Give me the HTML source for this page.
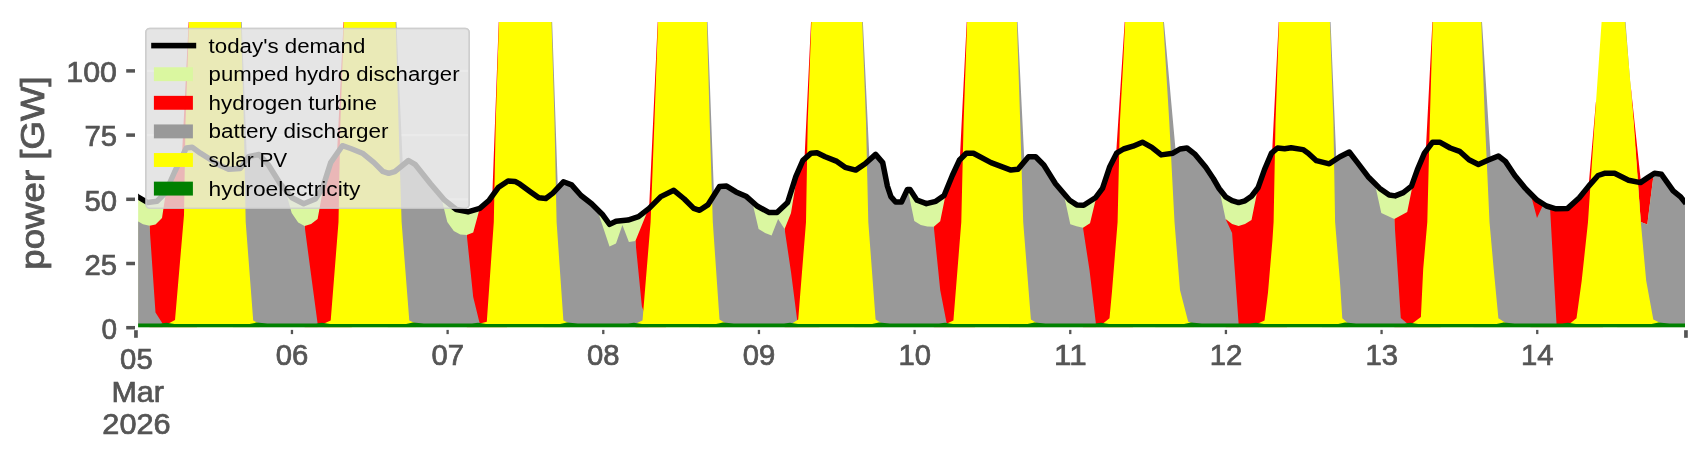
<!DOCTYPE html>
<html><head><meta charset="utf-8"><title>power chart</title>
<style>
html,body{margin:0;padding:0;background:#ffffff;}
body{width:1706px;height:460px;overflow:hidden;position:relative;font-family:"Liberation Sans",sans-serif;}
svg text{font-family:"Liberation Sans",sans-serif;}
svg{transform:translateZ(0);}
</style></head><body>
<svg width="1706" height="460" viewBox="0 0 1706 460" style="position:absolute;left:0;top:0">
<defs><clipPath id="cp"><rect x="138.15" y="22.0" width="1546.85" height="305.30"/></clipPath><clipPath id="cl"><rect x="138.15" y="22.0" width="1546.85" height="308.00"/></clipPath></defs>
<rect x="145.9" y="28.5" width="323.2" height="179.8" rx="4" ry="4" fill="#e5e5e5" stroke="#cccccc" stroke-width="1.6"/>
<rect x="146.9" y="69.8" width="321.2" height="2.2" fill="#ffffff"/>
<rect x="146.9" y="134.0" width="321.2" height="2.2" fill="#ffffff"/>
<rect x="146.9" y="198.2" width="321.2" height="2.2" fill="#ffffff"/>
<g clip-path="url(#cp)">
<polygon fill="#daf7a0" points="136.0,195.6 138.2,197.0 147.6,202.5 157.0,201.3 165.2,193.0 174.6,172.0 186.3,148.0 192.2,147.3 200.4,153.2 219.2,165.0 228.6,169.2 240.3,168.5 248.5,156.7 259.0,154.4 268.5,165.0 280.2,183.7 292.0,197.8 303.7,203.7 315.4,199.0 322.5,188.4 330.7,162.6 342.4,145.7 350.7,148.5 362.4,153.2 374.0,162.6 382.6,171.3 388.7,173.3 394.8,171.6 408.5,160.5 415.0,164.3 430.5,183.7 444.6,200.2 456.3,209.5 468.0,211.9 479.8,208.4 489.2,200.2 498.6,187.2 508.0,181.0 515.0,181.4 520.0,184.2 530.6,192.0 538.8,197.8 545.8,198.5 552.9,193.1 563.4,181.8 571.6,184.9 581.0,195.5 591.6,203.7 602.2,214.2 609.6,224.4 616.0,221.2 628.0,220.1 638.5,216.6 649.1,208.4 660.8,196.6 673.8,190.3 684.3,199.0 693.7,208.4 699.6,210.3 707.8,204.9 719.5,186.5 726.6,186.1 736.0,191.9 746.5,196.6 757.1,206.0 768.8,212.4 777.0,212.6 787.6,202.5 795.8,176.7 802.9,160.3 811.1,153.2 817.0,152.7 825.2,156.7 836.9,161.4 845.1,167.3 855.7,170.1 865.1,163.8 875.6,154.4 882.7,162.6 887.4,186.1 890.9,196.6 895.6,202.0 901.5,202.0 907.3,189.6 910.0,189.6 917.0,200.2 926.4,203.7 935.8,201.3 944.1,195.5 952.3,175.5 959.3,160.3 966.3,153.2 973.4,153.2 991.0,162.6 1010.9,170.1 1018.0,169.2 1028.5,156.7 1035.6,156.7 1043.8,165.0 1055.5,183.7 1069.6,200.2 1076.7,204.9 1083.7,205.3 1095.4,197.8 1102.5,188.4 1109.5,167.3 1116.6,153.2 1123.6,149.0 1133.0,146.2 1142.4,142.2 1151.8,147.3 1161.2,154.9 1172.9,153.2 1180.0,149.0 1187.0,148.0 1195.2,154.4 1205.8,167.3 1213.3,178.5 1219.1,188.5 1225.6,196.8 1232.1,200.6 1238.6,202.6 1245.0,200.8 1251.5,196.2 1258.0,187.8 1264.5,169.6 1271.5,153.2 1277.5,148.0 1284.6,148.7 1291.1,147.7 1303.0,149.6 1308.2,153.2 1316.4,160.7 1329.3,163.8 1339.9,156.7 1349.3,152.0 1357.5,162.6 1368.1,176.7 1379.8,188.4 1389.2,195.0 1395.1,195.9 1403.3,192.6 1411.5,186.1 1417.4,169.6 1424.4,153.2 1432.6,142.2 1439.7,142.2 1450.2,148.0 1459.6,151.3 1469.0,159.8 1478.4,164.5 1487.8,160.3 1498.4,156.0 1505.4,161.4 1514.8,175.5 1525.4,188.4 1537.1,200.2 1546.5,206.0 1555.9,208.8 1567.6,208.4 1579.3,197.8 1588.7,186.1 1598.1,175.5 1605.2,173.2 1614.6,173.2 1628.6,180.2 1640.4,182.6 1647.4,177.9 1654.5,173.2 1661.5,174.3 1673.2,190.8 1680.3,196.6 1686.0,203.5 1686.0,327.6 136.0,327.6"/>
<polygon fill="#ff0000" points="149.5,327.6 149.5,225.7 155.5,224.6 162.0,218.0 165.5,195.0 174.6,172.0 181.9,157.0 188.8,20.0 197.0,20.0 197.0,327.6"/>
<polygon fill="#ff0000" points="304.6,327.6 304.6,226.0 311.1,224.0 317.6,219.0 324.1,183.4 330.7,162.6 337.0,153.5 343.7,20.0 351.9,20.0 351.9,327.6"/>
<polygon fill="#ff0000" points="466.8,327.6 466.8,235.0 473.2,232.6 479.7,208.4 479.8,208.4 489.2,200.2 492.3,195.9 498.8,20.0 507.0,20.0 507.0,327.6"/>
<polygon fill="#ff0000" points="635.4,327.6 635.4,241.0 648.4,208.9 649.1,208.4 657.8,20.0 666.0,20.0 666.0,327.6"/>
<polygon fill="#ff0000" points="784.6,327.6 784.6,229.0 791.0,213.0 797.6,172.5 802.9,160.3 804.5,158.9 811.1,20.0 819.4,20.0 819.4,327.6"/>
<polygon fill="#ff0000" points="933.8,327.6 933.8,226.7 940.2,221.3 946.7,189.2 952.3,175.5 959.3,160.3 959.8,159.8 966.8,20.0 975.1,20.0 975.1,327.6"/>
<polygon fill="#ff0000" points="1083.0,327.6 1083.0,227.8 1090.0,223.3 1096.5,196.3 1102.5,188.4 1109.5,167.3 1116.1,154.2 1124.8,20.0 1133.1,20.0 1133.1,327.6"/>
<polygon fill="#ff0000" points="1225.6,327.6 1225.6,219.0 1232.1,224.0 1238.6,226.0 1245.0,224.0 1251.5,220.0 1258.0,187.8 1264.5,169.6 1271.5,153.2 1272.1,152.7 1278.8,20.0 1287.0,20.0 1287.0,327.6"/>
<polygon fill="#ff0000" points="1394.3,327.6 1394.3,219.0 1400.8,215.5 1407.2,212.0 1413.7,179.9 1417.4,169.6 1424.4,153.2 1425.8,151.3 1432.5,20.0 1440.7,20.0 1440.7,327.6"/>
<polygon fill="#ff0000" points="1530.5,327.6 1530.5,193.5 1537.0,200.1 1537.1,200.2 1546.5,206.0 1555.9,208.8 1567.6,208.4 1579.3,197.8 1588.6,186.2 1595.9,102.0 1603.0,110.0 1603.0,327.6"/>
<polygon fill="#ff0000" points="1630.1,80.0 1640.8,181.0 1647.4,177.9 1653.7,173.7 1647.3,224.5 1640.8,222.0"/>
<polygon fill="#999999" points="136.0,327.6 136.0,220.5 138.2,221.5 143.0,224.3 149.5,225.7 155.5,312.4 162.5,323.6 162.5,327.6"/>
<polygon fill="#999999" points="241.6,20.0 246.9,159.0 248.5,156.7 259.0,154.4 268.5,165.0 280.2,183.7 285.2,189.7 291.7,213.0 298.2,222.5 304.6,226.0 311.1,275.0 317.6,323.6 317.6,327.6 233.0,327.6 233.0,20.0"/>
<polygon fill="#999999" points="396.3,20.0 402.8,165.1 408.5,160.5 415.0,164.3 430.5,183.7 440.8,195.8 447.3,222.0 453.8,231.0 460.3,234.5 466.8,235.0 473.2,297.0 479.7,323.6 479.7,327.6 387.7,327.6 387.7,20.0"/>
<polygon fill="#999999" points="552.1,20.0 557.8,187.8 563.4,181.8 571.6,184.9 581.0,195.5 591.6,203.7 597.0,209.0 609.5,246.6 616.0,243.5 622.4,225.0 628.9,242.0 635.4,241.0 641.9,306.5 648.4,323.6 648.4,327.6 543.5,327.6 543.5,20.0"/>
<polygon fill="#999999" points="707.5,20.0 714.0,195.1 719.5,186.5 726.6,186.1 736.0,191.9 746.5,196.6 752.2,201.7 758.6,229.0 765.1,233.0 771.6,235.6 778.1,219.0 784.6,229.0 791.0,272.0 797.6,323.6 797.6,327.6 698.9,327.6 698.9,20.0"/>
<polygon fill="#999999" points="862.8,20.0 869.5,159.9 875.6,154.4 882.7,162.6 887.4,186.1 890.9,196.6 895.6,202.0 901.5,202.0 907.3,189.6 907.8,189.6 914.3,221.0 920.8,225.0 927.3,226.5 933.8,226.7 940.2,290.0 946.7,323.6 946.7,327.6 854.2,327.6 854.2,20.0"/>
<polygon fill="#999999" points="1017.5,20.0 1024.4,161.6 1028.5,156.7 1035.6,156.7 1043.8,165.0 1055.5,183.7 1063.5,193.1 1070.3,224.3 1076.5,226.3 1083.0,227.8 1089.5,270.0 1095.9,323.6 1095.9,327.6 1008.9,327.6 1008.9,20.0"/>
<polygon fill="#999999" points="1163.8,20.0 1175.7,151.5 1180.0,149.0 1187.0,148.0 1195.2,154.4 1205.8,167.3 1213.3,178.5 1219.1,188.5 1225.6,219.0 1232.1,233.0 1238.6,323.6 1238.6,327.6 1155.2,327.6 1155.2,20.0"/>
<polygon fill="#999999" points="1330.5,20.0 1336.3,159.1 1339.9,156.7 1349.3,152.0 1357.5,162.6 1368.1,176.7 1374.8,183.4 1381.3,213.0 1387.8,216.0 1394.3,219.0 1400.8,318.0 1407.2,323.6 1407.2,327.6 1321.9,327.6 1321.9,20.0"/>
<polygon fill="#999999" points="1481.9,20.0 1490.7,159.1 1498.4,156.0 1505.4,161.4 1514.8,175.5 1525.4,188.4 1530.5,193.5 1537.0,218.0 1543.5,204.1 1550.0,207.0 1556.5,323.6 1556.5,327.6 1473.3,327.6 1473.3,20.0"/>
<polygon fill="#999999" points="1625.4,20.0 1640.8,222.0 1647.3,224.5 1653.7,173.7 1654.5,173.2 1661.5,174.3 1673.2,190.8 1680.3,196.6 1686.0,203.5 1686.0,327.6 1617.1,327.6 1617.1,20.0"/>
<polygon fill="#ffff00" points="168.5,327.6 168.5,323.6 175.0,320.0 184.0,215.0 185.5,122.0 189.0,22.0 241.0,22.0 243.8,122.0 245.7,222.0 253.2,320.6 259.5,323.6 259.5,327.6"/>
<polygon fill="#ffff00" points="324.0,327.6 324.0,323.6 330.7,320.6 338.5,222.0 340.4,122.0 343.9,22.0 395.7,22.0 398.5,122.0 401.6,222.0 409.3,320.6 416.0,323.6 416.0,327.6"/>
<polygon fill="#ffff00" points="480.0,327.6 480.0,323.6 486.8,321.8 493.8,222.0 495.7,122.0 499.0,22.0 551.5,22.0 554.5,122.0 556.6,222.0 563.4,320.6 570.0,323.6 570.0,327.6"/>
<polygon fill="#ffff00" points="636.0,327.6 636.0,323.6 642.5,320.6 650.6,222.0 654.4,122.0 658.0,22.0 706.9,22.0 709.7,122.0 712.8,222.0 719.5,319.4 726.0,323.6 726.0,327.6"/>
<polygon fill="#ffff00" points="792.0,327.6 792.0,323.6 798.2,319.4 806.0,222.0 807.7,122.0 811.4,22.0 862.2,22.0 866.0,122.0 868.3,222.0 875.6,319.4 882.0,323.6 882.0,327.6"/>
<polygon fill="#ffff00" points="947.0,327.6 947.0,323.6 953.4,320.6 961.3,222.0 963.6,122.0 967.1,22.0 1016.9,22.0 1020.2,122.0 1023.2,222.0 1030.9,319.4 1037.5,323.6 1037.5,327.6"/>
<polygon fill="#ffff00" points="1103.0,327.6 1103.0,323.6 1109.5,318.2 1111.9,292.4 1117.6,222.0 1119.9,122.0 1123.4,58.6 1125.1,22.0 1163.2,22.0 1169.3,122.0 1174.5,222.0 1180.0,290.0 1188.2,321.8 1194.0,323.6 1194.0,327.6"/>
<polygon fill="#ffff00" points="1258.0,327.6 1258.0,323.6 1264.5,320.6 1268.0,292.4 1272.4,240.8 1273.6,222.0 1275.5,122.0 1279.0,22.0 1329.9,22.0 1333.4,122.0 1335.1,222.0 1339.9,280.7 1342.3,318.2 1348.1,323.6 1348.1,327.6"/>
<polygon fill="#ffff00" points="1412.2,327.6 1412.2,323.6 1420.9,317.0 1423.2,269.0 1427.3,222.0 1429.8,122.0 1432.7,22.0 1481.3,22.0 1484.8,118.0 1489.5,222.0 1493.7,269.0 1498.4,318.2 1506.6,323.6 1506.6,327.6"/>
<polygon fill="#ffff00" points="1570.0,327.6 1570.0,323.6 1576.5,318.2 1581.7,280.7 1588.0,222.0 1594.6,122.0 1601.6,22.0 1625.1,22.0 1633.8,122.0 1640.8,222.0 1646.2,280.7 1653.3,319.4 1661.5,323.6 1661.5,327.6"/>
<polygon fill="#008000" points="136.0,323.6 160.5,323.6 166.5,322.7 174.5,323.9 249.5,324.0 256.5,322.6 267.5,323.4 316.0,323.6 322.0,322.7 330.0,323.9 406.0,324.0 413.0,322.6 424.0,323.4 472.0,323.6 478.0,322.7 486.0,323.9 560.0,324.0 567.0,322.6 578.0,323.4 628.0,323.6 634.0,322.7 642.0,323.9 716.0,324.0 723.0,322.6 734.0,323.4 784.0,323.6 790.0,322.7 798.0,323.9 872.0,324.0 879.0,322.6 890.0,323.4 939.0,323.6 945.0,322.7 953.0,323.9 1027.5,324.0 1034.5,322.6 1045.5,323.4 1095.0,323.6 1101.0,322.7 1109.0,323.9 1184.0,324.0 1191.0,322.6 1202.0,323.4 1250.0,323.6 1256.0,322.7 1264.0,323.9 1338.1,324.0 1345.1,322.6 1356.1,323.4 1404.2,323.6 1410.2,322.7 1418.2,323.9 1496.6,324.0 1503.6,322.6 1514.6,323.4 1562.0,323.6 1568.0,322.7 1576.0,323.9 1651.5,324.0 1658.5,322.6 1669.5,323.4 1686.0,323.6 1686.0,329.3 136.0,329.3"/>
</g>
<g clip-path="url(#cl)"><polyline fill="none" stroke="#000" stroke-width="5.5" stroke-linejoin="round" stroke-linecap="butt" points="136.0,195.6 138.2,197.0 147.6,202.5 157.0,201.3 165.2,193.0 174.6,172.0 186.3,148.0 192.2,147.3 200.4,153.2 219.2,165.0 228.6,169.2 240.3,168.5 248.5,156.7 259.0,154.4 268.5,165.0 280.2,183.7 292.0,197.8 303.7,203.7 315.4,199.0 322.5,188.4 330.7,162.6 342.4,145.7 350.7,148.5 362.4,153.2 374.0,162.6 382.6,171.3 388.7,173.3 394.8,171.6 408.5,160.5 415.0,164.3 430.5,183.7 444.6,200.2 456.3,209.5 468.0,211.9 479.8,208.4 489.2,200.2 498.6,187.2 508.0,181.0 515.0,181.4 520.0,184.2 530.6,192.0 538.8,197.8 545.8,198.5 552.9,193.1 563.4,181.8 571.6,184.9 581.0,195.5 591.6,203.7 602.2,214.2 609.6,224.4 616.0,221.2 628.0,220.1 638.5,216.6 649.1,208.4 660.8,196.6 673.8,190.3 684.3,199.0 693.7,208.4 699.6,210.3 707.8,204.9 719.5,186.5 726.6,186.1 736.0,191.9 746.5,196.6 757.1,206.0 768.8,212.4 777.0,212.6 787.6,202.5 795.8,176.7 802.9,160.3 811.1,153.2 817.0,152.7 825.2,156.7 836.9,161.4 845.1,167.3 855.7,170.1 865.1,163.8 875.6,154.4 882.7,162.6 887.4,186.1 890.9,196.6 895.6,202.0 901.5,202.0 907.3,189.6 910.0,189.6 917.0,200.2 926.4,203.7 935.8,201.3 944.1,195.5 952.3,175.5 959.3,160.3 966.3,153.2 973.4,153.2 991.0,162.6 1010.9,170.1 1018.0,169.2 1028.5,156.7 1035.6,156.7 1043.8,165.0 1055.5,183.7 1069.6,200.2 1076.7,204.9 1083.7,205.3 1095.4,197.8 1102.5,188.4 1109.5,167.3 1116.6,153.2 1123.6,149.0 1133.0,146.2 1142.4,142.2 1151.8,147.3 1161.2,154.9 1172.9,153.2 1180.0,149.0 1187.0,148.0 1195.2,154.4 1205.8,167.3 1213.3,178.5 1219.1,188.5 1225.6,196.8 1232.1,200.6 1238.6,202.6 1245.0,200.8 1251.5,196.2 1258.0,187.8 1264.5,169.6 1271.5,153.2 1277.5,148.0 1284.6,148.7 1291.1,147.7 1303.0,149.6 1308.2,153.2 1316.4,160.7 1329.3,163.8 1339.9,156.7 1349.3,152.0 1357.5,162.6 1368.1,176.7 1379.8,188.4 1389.2,195.0 1395.1,195.9 1403.3,192.6 1411.5,186.1 1417.4,169.6 1424.4,153.2 1432.6,142.2 1439.7,142.2 1450.2,148.0 1459.6,151.3 1469.0,159.8 1478.4,164.5 1487.8,160.3 1498.4,156.0 1505.4,161.4 1514.8,175.5 1525.4,188.4 1537.1,200.2 1546.5,206.0 1555.9,208.8 1567.6,208.4 1579.3,197.8 1588.7,186.1 1598.1,175.5 1605.2,173.2 1614.6,173.2 1628.6,180.2 1640.4,182.6 1647.4,177.9 1654.5,173.2 1661.5,174.3 1673.2,190.8 1680.3,196.6 1686.0,203.5"/></g>
<rect x="126.2" y="325.95" width="8.8" height="3.5" fill="#555555"/>
<rect x="126.2" y="261.75" width="8.8" height="3.5" fill="#555555"/>
<rect x="126.2" y="197.55" width="8.8" height="3.5" fill="#555555"/>
<rect x="126.2" y="133.35" width="8.8" height="3.5" fill="#555555"/>
<rect x="126.2" y="69.15" width="8.8" height="3.5" fill="#555555"/>
<rect x="134.1" y="330.2" width="3.7" height="7.6" fill="#555555"/>
<rect x="1684.1" y="330.2" width="3.7" height="7.6" fill="#555555"/>
<rect x="290.81" y="329.9" width="2.3" height="4.2" fill="#555555"/>
<rect x="446.47" y="329.9" width="2.3" height="4.2" fill="#555555"/>
<rect x="602.13" y="329.9" width="2.3" height="4.2" fill="#555555"/>
<rect x="757.79" y="329.9" width="2.3" height="4.2" fill="#555555"/>
<rect x="913.45" y="329.9" width="2.3" height="4.2" fill="#555555"/>
<rect x="1069.11" y="329.9" width="2.3" height="4.2" fill="#555555"/>
<rect x="1224.77" y="329.9" width="2.3" height="4.2" fill="#555555"/>
<rect x="1380.43" y="329.9" width="2.3" height="4.2" fill="#555555"/>
<rect x="1536.09" y="329.9" width="2.3" height="4.2" fill="#555555"/>
<text x="117.00" y="338.90" font-size="28.89" fill="#555555" stroke="#555555" stroke-width="0.72" text-anchor="end" textLength="15.55" lengthAdjust="spacingAndGlyphs" >0</text>
<text x="117.00" y="274.70" font-size="28.89" fill="#555555" stroke="#555555" stroke-width="0.72" text-anchor="end" textLength="32.52" lengthAdjust="spacingAndGlyphs" >25</text>
<text x="117.00" y="210.50" font-size="28.89" fill="#555555" stroke="#555555" stroke-width="0.72" text-anchor="end" textLength="32.52" lengthAdjust="spacingAndGlyphs" >50</text>
<text x="117.00" y="146.30" font-size="28.89" fill="#555555" stroke="#555555" stroke-width="0.72" text-anchor="end" textLength="32.52" lengthAdjust="spacingAndGlyphs" >75</text>
<text x="117.00" y="82.10" font-size="28.89" fill="#555555" stroke="#555555" stroke-width="0.72" text-anchor="end" textLength="50.64" lengthAdjust="spacingAndGlyphs" >100</text>
<text x="136.40" y="369.20" font-size="28.89" fill="#555555" stroke="#555555" stroke-width="0.72" text-anchor="middle" textLength="32.52" lengthAdjust="spacingAndGlyphs" >05</text>
<text x="292.06" y="365.00" font-size="28.89" fill="#555555" stroke="#555555" stroke-width="0.72" text-anchor="middle" textLength="32.52" lengthAdjust="spacingAndGlyphs" >06</text>
<text x="447.72" y="365.00" font-size="28.89" fill="#555555" stroke="#555555" stroke-width="0.72" text-anchor="middle" textLength="32.52" lengthAdjust="spacingAndGlyphs" >07</text>
<text x="603.38" y="365.00" font-size="28.89" fill="#555555" stroke="#555555" stroke-width="0.72" text-anchor="middle" textLength="32.52" lengthAdjust="spacingAndGlyphs" >08</text>
<text x="759.04" y="365.00" font-size="28.89" fill="#555555" stroke="#555555" stroke-width="0.72" text-anchor="middle" textLength="32.52" lengthAdjust="spacingAndGlyphs" >09</text>
<text x="914.70" y="365.00" font-size="28.89" fill="#555555" stroke="#555555" stroke-width="0.72" text-anchor="middle" textLength="32.52" lengthAdjust="spacingAndGlyphs" >10</text>
<text x="1070.36" y="365.00" font-size="28.89" fill="#555555" stroke="#555555" stroke-width="0.72" text-anchor="middle" textLength="32.52" lengthAdjust="spacingAndGlyphs" >11</text>
<text x="1226.02" y="365.00" font-size="28.89" fill="#555555" stroke="#555555" stroke-width="0.72" text-anchor="middle" textLength="32.52" lengthAdjust="spacingAndGlyphs" >12</text>
<text x="1381.68" y="365.00" font-size="28.89" fill="#555555" stroke="#555555" stroke-width="0.72" text-anchor="middle" textLength="32.52" lengthAdjust="spacingAndGlyphs" >13</text>
<text x="1537.34" y="365.00" font-size="28.89" fill="#555555" stroke="#555555" stroke-width="0.72" text-anchor="middle" textLength="32.52" lengthAdjust="spacingAndGlyphs" >14</text>
<text x="137.60" y="401.80" font-size="28.89" fill="#555555" stroke="#555555" stroke-width="0.72" text-anchor="middle" textLength="52.41" lengthAdjust="spacingAndGlyphs" >Mar</text>
<text x="136.50" y="433.90" font-size="28.89" fill="#555555" stroke="#555555" stroke-width="0.72" text-anchor="middle" textLength="68.22" lengthAdjust="spacingAndGlyphs" >2026</text>
<text x="0.00" y="0.00" font-size="33.33" fill="#555555" stroke="#555555" stroke-width="0.87" text-anchor="middle" textLength="193.44" lengthAdjust="spacingAndGlyphs" transform="translate(44.0,173.0) rotate(-90)">power [GW]</text>
<rect x="145.9" y="28.5" width="323.2" height="179.8" rx="4" ry="4" fill="#e5e5e5" fill-opacity="0.8" stroke="#cccccc" stroke-opacity="0.8" stroke-width="1.6"/>
<rect x="151.2" y="42.800000000000004" width="45" height="5.6" fill="#000"/>
<rect x="153.9" y="67.25" width="39" height="13.9" fill="#daf7a0"/>
<rect x="153.9" y="95.85" width="39" height="13.9" fill="#ff0000"/>
<rect x="153.9" y="124.45" width="39" height="13.9" fill="#999999"/>
<rect x="153.9" y="153.05" width="39" height="13.9" fill="#ffff00"/>
<rect x="153.9" y="181.65" width="39" height="13.9" fill="#008000"/>
<text x="208.60" y="52.55" font-size="20.22" fill="#000" stroke="#000" stroke-width="0.00" text-anchor="start" textLength="156.74" lengthAdjust="spacingAndGlyphs" >today&#39;s demand</text>
<text x="208.60" y="81.15" font-size="20.22" fill="#000" stroke="#000" stroke-width="0.00" text-anchor="start" textLength="250.96" lengthAdjust="spacingAndGlyphs" >pumped hydro discharger</text>
<text x="208.60" y="109.75" font-size="20.22" fill="#000" stroke="#000" stroke-width="0.00" text-anchor="start" textLength="168.38" lengthAdjust="spacingAndGlyphs" >hydrogen turbine</text>
<text x="208.60" y="138.35" font-size="20.22" fill="#000" stroke="#000" stroke-width="0.00" text-anchor="start" textLength="179.87" lengthAdjust="spacingAndGlyphs" >battery discharger</text>
<text x="208.60" y="166.95" font-size="20.22" fill="#000" stroke="#000" stroke-width="0.00" text-anchor="start" textLength="78.53" lengthAdjust="spacingAndGlyphs" >solar PV</text>
<text x="208.60" y="195.55" font-size="20.22" fill="#000" stroke="#000" stroke-width="0.00" text-anchor="start" textLength="151.87" lengthAdjust="spacingAndGlyphs" >hydroelectricity</text>
</svg>
</body></html>
